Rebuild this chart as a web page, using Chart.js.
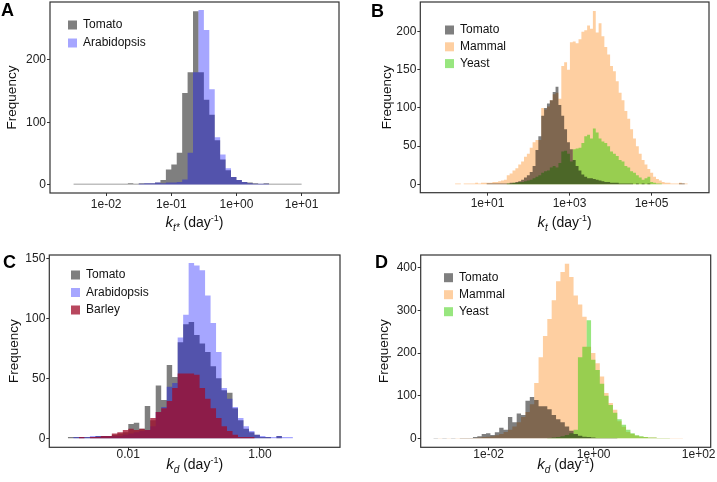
<!DOCTYPE html>
<html>
<head>
<meta charset="utf-8">
<script src="https://cdn.jsdelivr.net/npm/chart.js@4.4.1/dist/chart.umd.min.js"></script>
<style>
  body { margin: 0; background: #fff; }
  #wrap { position: relative; width: 717px; height: 482px; }
  canvas { position: absolute; }
</style>
</head>
<body>
<div id="wrap">
  <canvas id="cA" width="358" height="240" style="left:0;top:0"></canvas>
  <canvas id="cB" width="359" height="240" style="left:358px;top:0"></canvas>
  <canvas id="cC" width="358" height="242" style="left:0;top:240px"></canvas>
  <canvas id="cD" width="359" height="242" style="left:358px;top:240px"></canvas>
</div>
<script>
// x values are log10 of the rate; each histogram = first bin edge + bin width + counts

// A: k_t* , bins of 1/12 decade starting at 10^-2.5
const binA = { start: -2.5, width: 1 / 12 }
const tomatoA = [1,1,1,1,1,1,1,1,1,1, 2,1,2,2,2,3,7,24,32,51, 147,180,278,180,136,112,71,40,23,12, 7,4,3,2,1,2,1,1,1,1, 1,1]
const arabA = [0,0,0,0,0,0,0,0,0,0, 0,0,1,2,2,3,2,3,3,4, 8,51,180,280,248,153,76,48,26,12, 7,4,2,1,1,1,0,0,0,0, 0,0]
const xTicksA = [-2, -1, 0, 1]
const xLabelsA = ['1e-02', '1e-01', '1e+00', '1e+01']
const yTicksA = [0, 100, 200]

// B: k_t , bins of 0.07 decade starting at 10^0
const binB = { start: 0, width: 0.07 }
const tomatoB = [0,0,0,0,0,0,0,0,0,0, 0,0,0,0,1,1,1,1,1,1, 1,1,2,2,3,4,6,9,12,16, 24,45,63,90,100,106,110,121,128,104, 90,72,55,46,32,24,18,13,10,8, 8,7,6,5,4,3,3,2,2,2, 1,1,1,1,1,0,1,0,1,0, 1,0,0,0,0,0,0,0,0,0, 0,1,1,0]
const mammalB = [0,0,0,1,1,0,1,1,1,1, 2,1,2,2,2,2,3,3,4,5, 6,12,14,18,21,26,30,36,40,48, 55,58,58,100,98,102,110,118,120,112, 155,160,150,186,187,185,190,200,202,208, 204,227,199,211,194,180,170,155,148,135, 120,110,96,86,72,60,50,40,32,26, 20,15,10,7,5,3,2,2,1,1, 1,2,1,1]
const yeastB = [0,0,0,0,0,0,0,0,0,0, 0,0,0,0,0,0,0,0,0,0, 0,1,1,2,2,3,3,4,5,6, 8,10,12,15,17,18,22,24,22,28, 43,44,40,30,46,47,48,54,63,65, 60,73,68,60,56,54,50,43,40,37, 32,30,24,22,17,15,12,9,6,8, 10,3,2,1,1,0,0,0,0,0, 0,0,0,0]
const xTicksB = [1, 3, 5]
const xLabelsB = ['1e+01', '1e+03', '1e+05']
const yTicksB = [0, 50, 100, 150, 200]

// C: k_d , bins of 1/12 decade
const binC = { start: -3.1667, width: 1 / 12 }
const tomatoC = [0,0,0,1,1,1,1,1,2,2, 2,3,4,5,12,13,8,27,15,44, 32,61,51,80,95,97,86,79,72,60, 50,40,38,25,15,8,5,3,1,1, 0,2,0,0,0]
const arabC = [0,0,0,0,1,1,1,2,2,2, 2,2,2,3,4,5,6,7,10,22, 26,43,46,84,103,146,144,140,119,96, 72,42,33,26,17,10,6,3,2,1, 1,2,1,1,0]
const barleyC = [0,0,0,0,0,1,0,1,1,2, 2,4,5,7,8,7,8,7,17,22, 25,31,42,54,54,54,53,42,33,25, 17,10,6,3,1,1,1,0,0,0, 0,0,0,0,0]
const xTicksC = [-2, 0]
const xLabelsC = ['0.01', '1.00']
const yTicksC = [0, 50, 100, 150]

// D: k_d , bins of 1/12 decade
const binD = { start: -3.05, width: 1 / 12 }
const tomatoD = [1,0,1,0,1,0,1,1,1,3, 5,10,12,8,14,25,20,50,38,58, 55,88,97,90,75,75,68,55,45,38, 28,18,10,6,4,3,2,1,1,1, 1,1,0,0,0,0,0,0,0,0, 0,0,0,0,0,0,0,0]
const mammalD = [0,1,0,1,0,1,1,1,1,1, 2,3,4,5,7,10,15,20,28,38, 50,62,80,130,190,240,280,324,368,390, 409,378,335,314,285,215,200,176,145,106, 83,67,40,27,15,10,6,4,3,2, 2,1,1,1,1,1,1,0]
const yeastD = [0,0,0,0,0,0,0,0,0,0, 0,0,0,0,0,0,0,0,0,0, 0,0,0,0,0,0,1,2,3,5, 8,12,20,190,215,277,184,160,128,100, 78,60,45,32,20,12,7,5,3,2, 2,1,1,1,0,0,0,0]
const xTicksD = [-2, 0, 2]
const xLabelsD = ['1e-02', '1e+00', '1e+02']
const yTicksD = [0, 100, 200, 300, 400]

const FONT = '"Liberation Sans", Arial, sans-serif'
const GREY = 'rgba(0,0,0,0.5)'
const BLUE = 'rgba(0,0,255,0.35)'
const RED = 'rgba(160,10,40,0.75)'
const ORANGE = 'rgba(253,140,30,0.42)'
const GREEN = 'rgba(50,205,0,0.5)'

// stepped line through bin centres, padded with a zero on each side so the end bins are full width
function histSet(label, bin, counts, color, order) {
    const pts = [{ x: bin.start - bin.width / 2, y: 0 }]
    counts.forEach((c, i) => pts.push({ x: bin.start + (i + 0.5) * bin.width, y: c }))
    pts.push({ x: bin.start + (counts.length + 0.5) * bin.width, y: 0 })
    return {
        label, data: pts, order,
        stepped: 'middle', fill: 'origin',
        backgroundColor: color, borderColor: 'rgba(0,0,0,0)', borderWidth: 0,
        pointRadius: 0,
    }
}

// frame, panel letter, inner legend and the two axis titles
const decor = {
    id: 'decor',
    afterDraw(chart, args, o) {
        const { ctx, chartArea: a } = chart
        ctx.save()
        ctx.strokeStyle = '#333'
        ctx.lineWidth = 1.2
        ctx.strokeRect(a.left, a.top, a.right - a.left, a.bottom - a.top)

        ctx.fillStyle = '#000'
        ctx.textAlign = 'left'
        ctx.textBaseline = 'alphabetic'
        ctx.font = 'bold 18px ' + FONT
        ctx.fillText(o.letter, o.letterX, o.letterY)

        ctx.font = '12px ' + FONT
        ctx.textBaseline = 'middle'
        chart.data.datasets.forEach((ds, i) => {
            const y = o.legendY + i * o.legendGap
            ctx.fillStyle = ds.backgroundColor
            ctx.fillRect(o.legendX, y - 4.5, 9, 9)
            ctx.fillStyle = '#111'
            ctx.fillText(ds.label, o.legendX + 15, y)
        })

        ctx.save()
        ctx.translate(o.yTitleX, (a.top + a.bottom) / 2)
        ctx.rotate(-Math.PI / 2)
        ctx.textAlign = 'center'
        ctx.font = '13.5px ' + FONT
        ctx.fillText('Frequency', 0, 0)
        ctx.restore()

        const fonts = { k: 'italic 15px ', sub: 'italic 10px ', n: '14px ', sup: '9px ' }
        const dy = { k: 0, sub: 4, n: 0, sup: -6 }
        ctx.textBaseline = 'alphabetic'
        let total = 0
        o.xTitle.forEach(([t, k]) => { ctx.font = fonts[k] + FONT; total += ctx.measureText(t).width })
        let x = (a.left + a.right) / 2 - total / 2
        o.xTitle.forEach(([t, k]) => {
            ctx.font = fonts[k] + FONT
            ctx.fillText(t, x, o.xTitleY + dy[k])
            x += ctx.measureText(t).width
        })
        ctx.restore()
    }
}

function makePanel(id, p) {
    const canvas = document.getElementById(id)
    const W = canvas.width, H = canvas.height
    const tickFont = { family: FONT, size: 12 }
    new Chart(canvas, {
        type: 'line',
        data: { datasets: p.datasets },
        options: {
            responsive: false,
            animation: false,
            events: [],
            layout: { padding: { left: 0, top: p.area.top, right: W - p.area.right, bottom: 0 } },
            plugins: { legend: { display: false }, tooltip: { enabled: false }, decor: p.decor },
            scales: {
                x: {
                    type: 'linear', min: p.xRange[0], max: p.xRange[1],
                    afterBuildTicks: s => { s.ticks = p.xTicks.map(v => ({ value: v })) },
                    afterFit: s => { s.height = H - p.area.bottom; s.paddingLeft = 0; s.paddingRight = 0 },
                    ticks: { callback: (v, i) => p.xLabels[i], font: tickFont, color: '#222', padding: p.xPad, maxRotation: 0, autoSkip: false },
                    grid: { drawOnChartArea: false, tickLength: 3, color: '#333' },
                    border: { display: false },
                },
                y: {
                    type: 'linear', min: p.yRange[0], max: p.yRange[1],
                    afterBuildTicks: s => { s.ticks = p.yTicks.map(v => ({ value: v })) },
                    afterFit: s => { s.width = p.area.left; s.paddingTop = 0; s.paddingBottom = 0 },
                    ticks: { font: tickFont, color: '#222', padding: 1 },
                    grid: { drawOnChartArea: false, tickLength: 3, color: '#333' },
                    border: { display: false },
                },
            },
        },
        plugins: [decor],
    })
}

makePanel('cA', {
    datasets: [
        histSet('Tomato', binA, tomatoA, GREY, 2),
        histSet('Arabidopsis', binA, arabA, BLUE, 1),
    ],
    area: { left: 50, top: 2, right: 339, bottom: 193 },
    xRange: [-2.862, 1.574], yRange: [-13.7, 293],
    xTicks: xTicksA, xLabels: xLabelsA, yTicks: yTicksA, xPad: 1,
    decor: {
        letter: 'A', letterX: 1, letterY: 16,
        legendX: 68, legendY: 25, legendGap: 18,
        yTitleX: 12,
        xTitle: [['k', 'k'], ['t*', 'sub'], [' (day', 'n'], ['-1', 'sup'], [')', 'n']], xTitleY: 227,
    },
})

makePanel('cB', {
    datasets: [
        histSet('Tomato', binB, tomatoB, GREY, 1),
        histSet('Mammal', binB, mammalB, ORANGE, 3),
        histSet('Yeast', binB, yeastB, GREEN, 2),
    ],
    area: { left: 62.3, top: 2, right: 351, bottom: 192.7 },
    xRange: [-0.639, 6.402], yRange: [-11, 238.9],
    xTicks: xTicksB, xLabels: xLabelsB, yTicks: yTicksB, xPad: 1,
    decor: {
        letter: 'B', letterX: 13, letterY: 17,
        legendX: 87, legendY: 30, legendGap: 16.8,
        yTitleX: 29,
        xTitle: [['k', 'k'], ['t', 'sub'], [' (day', 'n'], ['-1', 'sup'], [')', 'n']], xTitleY: 227,
    },
})

makePanel('cC', {
    datasets: [
        histSet('Tomato', binC, tomatoC, GREY, 3),
        histSet('Arabidopsis', binC, arabC, BLUE, 2),
        histSet('Barley', binC, barleyC, RED, 1),
    ],
    area: { left: 49.3, top: 15, right: 340, bottom: 207.3 },
    xRange: [-3.2, 1.216], yRange: [-7.5, 152.75],
    xTicks: xTicksC, xLabels: xLabelsC, yTicks: yTicksC, xPad: -3,
    decor: {
        letter: 'C', letterX: 3, letterY: 28,
        legendX: 71, legendY: 35, legendGap: 17.5,
        yTitleX: 14,
        xTitle: [['k', 'k'], ['d', 'sub'], [' (day', 'n'], ['-1', 'sup'], [')', 'n']], xTitleY: 229,
    },
})

makePanel('cD', {
    datasets: [
        histSet('Tomato', binD, tomatoD, GREY, 1),
        histSet('Mammal', binD, mammalD, ORANGE, 3),
        histSet('Yeast', binD, yeastD, GREEN, 2),
    ],
    area: { left: 62.7, top: 15, right: 352.7, bottom: 207.3 },
    xRange: [-3.295, 2.229], yRange: [-21, 429.8],
    xTicks: xTicksD, xLabels: xLabelsD, yTicks: yTicksD, xPad: -3,
    decor: {
        letter: 'D', letterX: 17, letterY: 28,
        legendX: 86, legendY: 37.7, legendGap: 17,
        yTitleX: 26,
        xTitle: [['k', 'k'], ['d', 'sub'], [' (day', 'n'], ['-1', 'sup'], [')', 'n']], xTitleY: 229,
    },
})
</script>
</body>
</html>
